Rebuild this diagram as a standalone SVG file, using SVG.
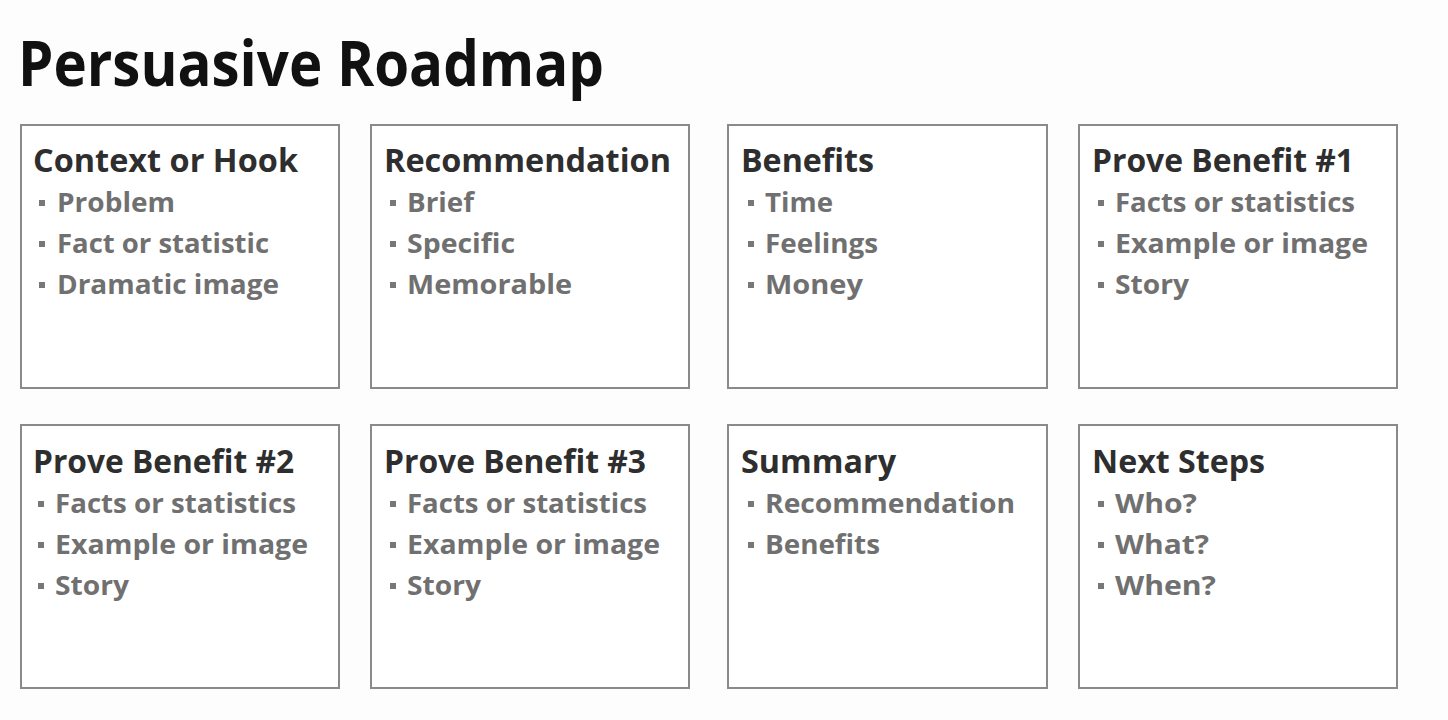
<svg xmlns="http://www.w3.org/2000/svg" width="1448" height="720" viewBox="0 0 1448 720">
<style>
.bg{fill:#fdfdfd}
.box{fill:#ffffff;stroke:#8a8a8a;stroke-width:2}
.title{font-family:"Open Sans","Liberation Sans",sans-serif;font-weight:700;font-size:62px;fill:#111111}
.h{font-family:"Open Sans","Liberation Sans",sans-serif;font-weight:700;font-size:32px;fill:#2e2e2e}
.b{font-family:"Open Sans","Liberation Sans",sans-serif;font-weight:700;font-size:26px;fill:#707070}
.dot{fill:#777777}
</style>
<rect class="bg" x="0" y="0" width="1448" height="720"/>
<text class="title" x="18" y="86" textLength="586" lengthAdjust="spacingAndGlyphs">Persuasive Roadmap</text>

<g id="context">
<rect class="box" x="21" y="125" width="318" height="263"/>
<text class="h" x="33" y="172" textLength="265" lengthAdjust="spacingAndGlyphs">Context or Hook</text>
<rect class="dot" x="39" y="200" width="6" height="6"/><text class="b" x="57" y="212" textLength="118" lengthAdjust="spacingAndGlyphs">Problem</text>
<rect class="dot" x="39" y="241" width="6" height="6"/><text class="b" x="57" y="253" textLength="212" lengthAdjust="spacingAndGlyphs">Fact or statistic</text>
<rect class="dot" x="39" y="282" width="6" height="6"/><text class="b" x="57" y="294" textLength="222" lengthAdjust="spacingAndGlyphs">Dramatic image</text>
</g>

<g id="recommendation">
<rect class="box" x="371" y="125" width="318" height="263"/>
<text class="h" x="384" y="172" textLength="287" lengthAdjust="spacingAndGlyphs">Recommendation</text>
<rect class="dot" x="390" y="200" width="6" height="6"/><text class="b" x="407" y="212" textLength="67" lengthAdjust="spacingAndGlyphs">Brief</text>
<rect class="dot" x="390" y="241" width="6" height="6"/><text class="b" x="407" y="253" textLength="108" lengthAdjust="spacingAndGlyphs">Specific</text>
<rect class="dot" x="390" y="282" width="6" height="6"/><text class="b" x="407" y="294" textLength="165" lengthAdjust="spacingAndGlyphs">Memorable</text>
</g>

<g id="benefits">
<rect class="box" x="728" y="125" width="319" height="263"/>
<text class="h" x="741" y="172" textLength="133" lengthAdjust="spacingAndGlyphs">Benefits</text>
<rect class="dot" x="748" y="200" width="6" height="6"/><text class="b" x="765" y="212" textLength="68" lengthAdjust="spacingAndGlyphs">Time</text>
<rect class="dot" x="748" y="241" width="6" height="6"/><text class="b" x="765" y="253" textLength="113" lengthAdjust="spacingAndGlyphs">Feelings</text>
<rect class="dot" x="748" y="282" width="6" height="6"/><text class="b" x="765" y="294" textLength="98" lengthAdjust="spacingAndGlyphs">Money</text>
</g>

<g id="prove1">
<rect class="box" x="1079" y="125" width="318" height="263"/>
<text class="h" x="1092" y="172" textLength="262" lengthAdjust="spacingAndGlyphs">Prove Benefit #1</text>
<rect class="dot" x="1098" y="200" width="6" height="6"/><text class="b" x="1115" y="212" textLength="240" lengthAdjust="spacingAndGlyphs">Facts or statistics</text>
<rect class="dot" x="1098" y="241" width="6" height="6"/><text class="b" x="1115" y="253" textLength="253" lengthAdjust="spacingAndGlyphs">Example or image</text>
<rect class="dot" x="1098" y="282" width="6" height="6"/><text class="b" x="1115" y="294" textLength="74" lengthAdjust="spacingAndGlyphs">Story</text>
</g>

<g id="prove2">
<rect class="box" x="21" y="425" width="318" height="263"/>
<text class="h" x="33" y="473" textLength="261" lengthAdjust="spacingAndGlyphs">Prove Benefit #2</text>
<rect class="dot" x="38" y="501" width="6" height="6"/><text class="b" x="55" y="513" textLength="241" lengthAdjust="spacingAndGlyphs">Facts or statistics</text>
<rect class="dot" x="38" y="542" width="6" height="6"/><text class="b" x="55" y="554" textLength="253" lengthAdjust="spacingAndGlyphs">Example or image</text>
<rect class="dot" x="38" y="583" width="6" height="6"/><text class="b" x="55" y="595" textLength="74" lengthAdjust="spacingAndGlyphs">Story</text>
</g>

<g id="prove3">
<rect class="box" x="371" y="425" width="318" height="263"/>
<text class="h" x="384" y="473" textLength="262" lengthAdjust="spacingAndGlyphs">Prove Benefit #3</text>
<rect class="dot" x="390" y="501" width="6" height="6"/><text class="b" x="407" y="513" textLength="240" lengthAdjust="spacingAndGlyphs">Facts or statistics</text>
<rect class="dot" x="390" y="542" width="6" height="6"/><text class="b" x="407" y="554" textLength="253" lengthAdjust="spacingAndGlyphs">Example or image</text>
<rect class="dot" x="390" y="583" width="6" height="6"/><text class="b" x="407" y="595" textLength="74" lengthAdjust="spacingAndGlyphs">Story</text>
</g>

<g id="summary">
<rect class="box" x="728" y="425" width="319" height="263"/>
<text class="h" x="741" y="473" textLength="155" lengthAdjust="spacingAndGlyphs">Summary</text>
<rect class="dot" x="748" y="501" width="6" height="6"/><text class="b" x="765" y="513" textLength="250" lengthAdjust="spacingAndGlyphs">Recommendation</text>
<rect class="dot" x="748" y="542" width="6" height="6"/><text class="b" x="765" y="554" textLength="115" lengthAdjust="spacingAndGlyphs">Benefits</text>
</g>

<g id="nextsteps">
<rect class="box" x="1079" y="425" width="318" height="263"/>
<text class="h" x="1092" y="473" textLength="173" lengthAdjust="spacingAndGlyphs">Next Steps</text>
<rect class="dot" x="1098" y="501" width="6" height="6"/><text class="b" x="1115" y="513" textLength="82" lengthAdjust="spacingAndGlyphs">Who?</text>
<rect class="dot" x="1098" y="542" width="6" height="6"/><text class="b" x="1115" y="554" textLength="94" lengthAdjust="spacingAndGlyphs">What?</text>
<rect class="dot" x="1098" y="583" width="6" height="6"/><text class="b" x="1115" y="595" textLength="101" lengthAdjust="spacingAndGlyphs">When?</text>
</g>

<g id="connectors"></g>
</svg>
